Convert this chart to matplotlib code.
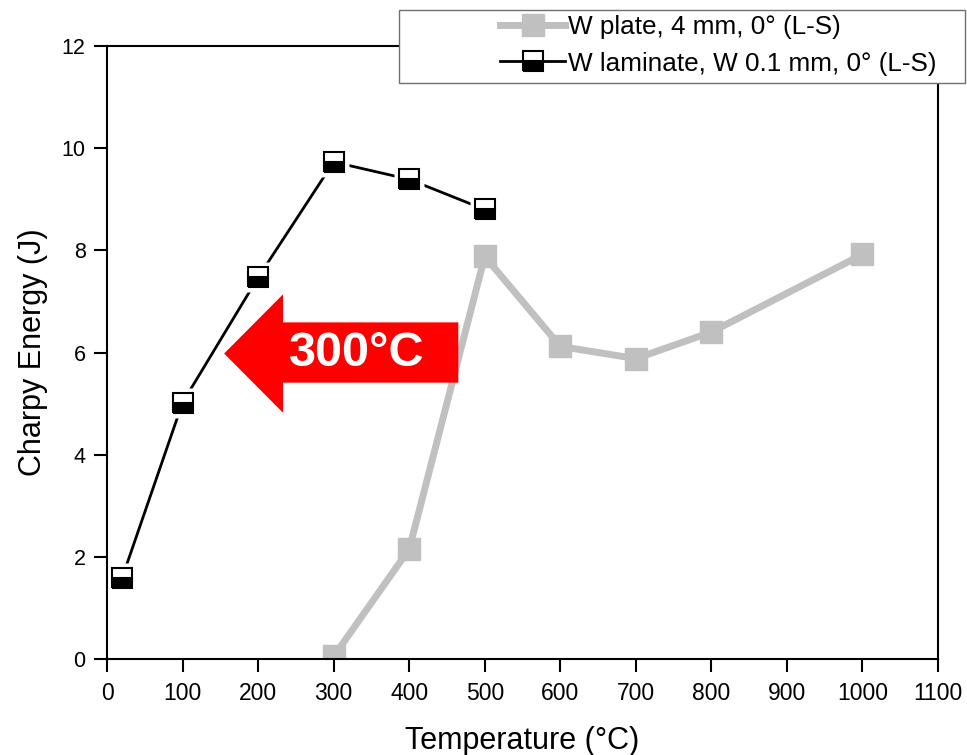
import matplotlib.pyplot as plt
from matplotlib.patches import Polygon, Rectangle

plt.rcParams['font.family'] = ['Liberation Sans', 'DejaVu Sans']

# W plate, 4 mm
plate_T = [300, 400, 500, 600, 700, 800, 1000]
plate_E = [0.05, 2.15, 7.88, 6.12, 5.88, 6.40, 7.92]

# W laminate, W 0.1 mm
lam_T = [20, 100, 200, 300, 400, 500]
lam_E = [1.59, 5.02, 7.47, 9.73, 9.39, 8.80]

xticks = list(range(0, 1101, 100))
yticks = list(range(0, 13, 2))

fig = plt.figure(figsize=(9.67, 7.55), dpi=100)
ax = fig.add_axes([0.1107, 0.1272, 0.8593, 0.8118])

ax.plot(plate_T, plate_E, color='#c0c0c0', lw=5, marker='s', ms=16,
        mfc='#c0c0c0', mec='#c0c0c0', label='W plate, 4 mm, 0° (L-S)', zorder=2)
# laminate: line, white halo (below the spines) for the small gaps, then half-filled squares
ax.plot(lam_T, lam_E, color='black', lw=2, zorder=2.2)
ax.plot(lam_T, lam_E, ls='none', marker='s', ms=22, mfc='white', mec='none', zorder=2.4)
ax.plot(lam_T, lam_E, ls='none', marker='s', ms=14,
        fillstyle='bottom', mfc='black', mfcalt='white', mec='black', mew=1.5, zorder=4)

# legend handle for laminate
lam_handle, = ax.plot([], [], color='black', lw=2, marker='s', ms=14,
                      fillstyle='bottom', mfc='black', mfcalt='white', mec='black', mew=1.5,
                      label='W laminate, W 0.1 mm, 0° (L-S)')

# red arrow annotation
arrow = Polygon([(155, 5.98), (233, 7.14), (233, 6.59), (465, 6.59),
                 (465, 5.41), (233, 5.41), (233, 4.82)],
                closed=True, facecolor='#ff0000', edgecolor='none', zorder=5)
ax.add_patch(arrow)
ax.text(330, 5.98, '300°C', color='white', fontsize=35, fontweight='bold',
        ha='center', va='center', zorder=6)

ax.set_xlim(0, 1100)
ax.set_ylim(0, 12)
ax.set_xticks(xticks)
ax.set_yticks(yticks)
ax.tick_params(direction='out', length=9.5, width=1.5)
ax.tick_params(axis='x', labelsize=16.5, pad=7)
ax.tick_params(axis='y', labelsize=15.5, pad=6)
for s in ax.spines.values():
    s.set_linewidth(1.5)

ax.set_xlabel('Temperature (°C)', fontsize=22, labelpad=15)
ax.set_ylabel('Charpy Energy (J)', fontsize=22, labelpad=10)

# legend box
box = Rectangle((399 / 967, 1 - 83 / 755), (965 - 399) / 967, 73 / 755,
                transform=fig.transFigure, facecolor='white', edgecolor='#707070',
                lw=1.0, zorder=7)
fig.add_artist(box)
leg = fig.legend(loc='center left', bbox_to_anchor=(500 / 967, 1 - 45.5 / 755),
                 fontsize=18.8, frameon=False, handlelength=2.5,
                 handletextpad=0.12, borderpad=0, borderaxespad=0,
                 labelspacing=0.47)
leg.set_zorder(8)

fig.savefig('out.png', dpi=100)
